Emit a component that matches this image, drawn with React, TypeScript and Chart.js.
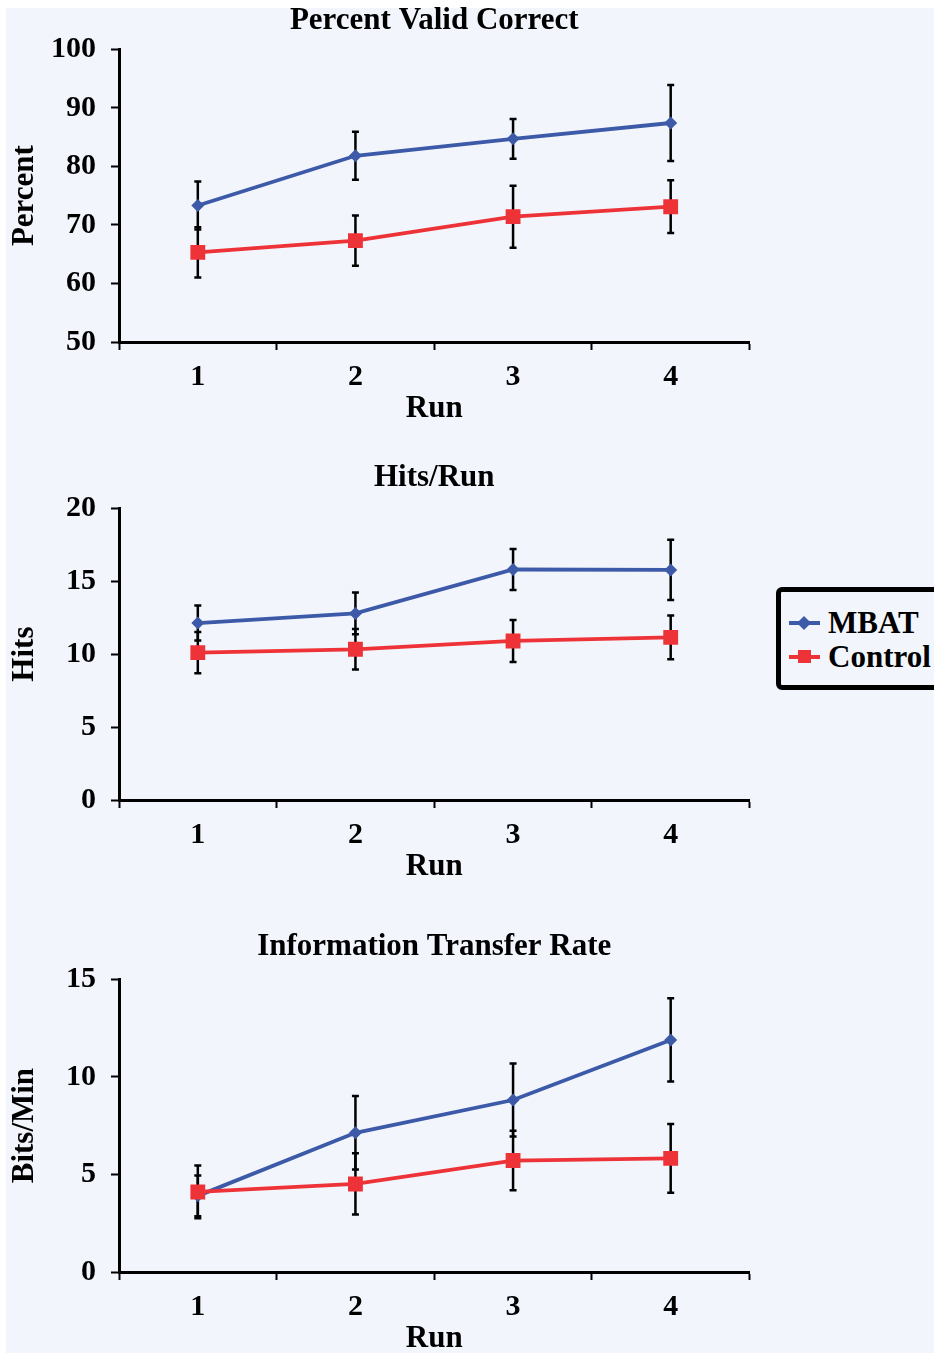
import React, { useEffect, useRef } from 'react';
import { Chart, registerables } from 'chart.js';
Chart.register(...registerables);

// ---- data ----
const runs = ['1', '2', '3', '4'];
const seriesNames = ['MBAT', 'Control'];

const pvcTitle = 'Percent Valid Correct';
const pvcYTitle = 'Percent';
const pvcRange = [50, 100, 10];
const pvcMbat = [73.3, 81.8, 84.7, 87.4];
const pvcMbatSd = [4.1, 4.1, 3.4, 6.5];
const pvcControl = [65.3, 67.3, 71.4, 73.1];
const pvcControlSd = [4.3, 4.3, 5.3, 4.5];

const hitsTitle = 'Hits/Run';
const hitsYTitle = 'Hits';
const hitsRange = [0, 20, 5];
const hitsMbat = [12.13, 12.79, 15.8, 15.77];
const hitsMbatSd = [1.2, 1.43, 1.4, 2.07];
const hitsControl = [10.1, 10.33, 10.9, 11.15];
const hitsControlSd = [1.41, 1.39, 1.44, 1.5];

const itrTitle = 'Information Transfer Rate';
const itrYTitle = 'Bits/Min';
const itrRange = [0, 15, 5];
const itrMbat = [3.9, 7.13, 8.81, 11.89];
const itrMbatSd = [1.05, 1.88, 1.87, 2.13];
const itrControl = [4.1, 4.51, 5.71, 5.82];
const itrControlSd = [1.35, 1.57, 1.52, 1.76];

const xTitle = 'Run';

// ---- style ----
const BLUE = '#3d5aa8';
const RED = '#ee3338';
const BG = '#f2f6fc';
const FONT_FAMILY = '"Liberation Serif", "Times New Roman", serif';
const font = { family: FONT_FAMILY, size: 30, weight: 'bold' as const, lineHeight: 1.2 };
const bigFont = { family: FONT_FAMILY, size: 31, weight: 'bold' as const, lineHeight: 1.2 };

const errorBarPlugin = {
  id: 'errorBars',
  beforeDatasetsDraw(chart: any) {
    const { ctx } = chart;
    const yScale = chart.scales.y;
    chart.data.datasets.forEach((ds: any, i: number) => {
      const err = ds.errors;
      if (!err) return;
      const meta = chart.getDatasetMeta(i);
      ctx.save();
      ctx.strokeStyle = '#000';
      ctx.lineWidth = 2.5;
      meta.data.forEach((pt: any, j: number) => {
        const v = ds.data[j];
        const e = err[j];
        const top = yScale.getPixelForValue(v + e);
        const bot = yScale.getPixelForValue(v - e);
        ctx.beginPath();
        ctx.moveTo(pt.x, top);
        ctx.lineTo(pt.x, bot);
        ctx.moveTo(pt.x - 3.5, top);
        ctx.lineTo(pt.x + 3.5, top);
        ctx.moveTo(pt.x - 3.5, bot);
        ctx.lineTo(pt.x + 3.5, bot);
        ctx.stroke();
      });
      ctx.restore();
    });
  },
};

type PanelProps = {
  title: string;
  yTitle: string;
  range: number[];
  mbat: number[];
  mbatSd: number[];
  control: number[];
  controlSd: number[];
  top: number;
  height: number;
  titlePad: { top: number; bottom: number };
};

const CANVAS_W = 760;

function Panel(p: PanelProps) {
  const ref = useRef<HTMLCanvasElement>(null);
  useEffect(() => {
    if (!ref.current) return;
    const chart = new Chart(ref.current, {
      type: 'line',
      data: {
        labels: runs,
        datasets: [
          {
            label: seriesNames[1],
            data: p.control,
            errors: p.controlSd,
            borderColor: RED,
            backgroundColor: RED,
            borderWidth: 3.8,
            pointStyle: 'rect',
            pointRadius: 10.5,
            pointBorderWidth: 0,
            tension: 0,
            order: 0,
          } as any,
          {
            label: seriesNames[0],
            data: p.mbat,
            errors: p.mbatSd,
            borderColor: BLUE,
            backgroundColor: BLUE,
            borderWidth: 3.8,
            pointStyle: 'rectRot',
            pointRadius: 6.5,
            pointBorderWidth: 0,
            tension: 0,
            order: 1,
          } as any,
        ],
      },
      options: {
        animation: false,
        responsive: false,
        devicePixelRatio: 1,
        layout: { padding: { left: 6, right: 5, top: 0, bottom: 0 } },
        plugins: {
          legend: { display: false },
          tooltip: { enabled: false },
          title: {
            display: true,
            text: p.title,
            color: '#000',
            font: bigFont,
            fullSize: false,
            padding: p.titlePad,
          },
        },
        scales: {
          x: {
            offset: true,
            grid: {
              offset: true,
              drawOnChartArea: false,
              drawTicks: true,
              tickLength: 8,
              tickWidth: 2,
              tickColor: '#000',
            },
            border: { display: true, color: '#000', width: 3 },
            ticks: { color: '#000', font, padding: 9 },
            title: { display: true, text: xTitle, color: '#000', font: bigFont, padding: { top: 0, bottom: 12 } },
            afterFit: (s: any) => {
              s.height = 98;
            },
          },
          y: {
            min: p.range[0],
            max: p.range[1],
            ticks: { stepSize: p.range[2], color: '#000', font, padding: 15 },
            grid: {
              drawOnChartArea: false,
              drawTicks: true,
              tickLength: 8,
              tickWidth: 2,
              tickColor: '#000',
            },
            border: { display: true, color: '#000', width: 3 },
            title: { display: true, text: p.yTitle, color: '#000', font: bigFont, padding: { top: 0, bottom: 0 } },
            afterFit: (s: any) => {
              s.width = 113;
            },
          },
        },
      } as any,
      plugins: [errorBarPlugin],
    });
    return () => chart.destroy();
  }, []);
  return (
    <canvas
      ref={ref}
      width={CANVAS_W}
      height={p.height}
      style={{ position: 'absolute', left: 0, top: p.top, width: CANVAS_W, height: p.height }}
    />
  );
}

function Legend() {
  const item = (color: string, name: string, y: number, diamond: boolean) => (
    <div style={{ position: 'absolute', left: 8, top: y, height: 34, width: 200 }}>
      <div style={{ position: 'absolute', left: 0, top: 15, width: 31, height: 4, background: color }} />
      {diamond ? (
        <div
          style={{
            position: 'absolute',
            left: 10,
            top: 12,
            width: 10,
            height: 10,
            background: color,
            transform: 'rotate(45deg)',
          }}
        />
      ) : (
        <div style={{ position: 'absolute', left: 9, top: 10, width: 13, height: 13, background: color }} />
      )}
      <span
        style={{
          position: 'absolute',
          left: 39,
          top: 0,
          font: `bold 31px ${FONT_FAMILY}`,
          lineHeight: '34px',
          color: '#000',
          whiteSpace: 'nowrap',
        }}
      >
        {name}
      </span>
    </div>
  );
  return (
    <div
      style={{
        position: 'absolute',
        left: 776,
        top: 587,
        width: 180,
        height: 93,
        border: '5px solid #000',
        borderRadius: 6,
        background: BG,
      }}
    >
      {item(BLUE, seriesNames[0], 14, true)}
      {item(RED, seriesNames[1], 48, false)}
    </div>
  );
}

export default function App() {
  return (
    <div style={{ position: 'absolute', left: 0, top: 0, width: 934, height: 1355, overflow: 'hidden', background: '#fff' }}>
      <div style={{ position: 'absolute', left: 6, top: 8, width: 928, height: 1345, background: BG }} />
      <Panel
        title={pvcTitle}
        yTitle={pvcYTitle}
        range={pvcRange}
        mbat={pvcMbat}
        mbatSd={pvcMbatSd}
        control={pvcControl}
        controlSd={pvcControlSd}
        top={0}
        height={440}
        titlePad={{ top: 2, bottom: 10 }}
      />
      <Panel
        title={hitsTitle}
        yTitle={hitsYTitle}
        range={hitsRange}
        mbat={hitsMbat}
        mbatSd={hitsMbatSd}
        control={hitsControl}
        controlSd={hitsControlSd}
        top={451}
        height={447}
        titlePad={{ top: 8, bottom: 12 }}
      />
      <Panel
        title={itrTitle}
        yTitle={itrYTitle}
        range={itrRange}
        mbat={itrMbat}
        mbatSd={itrMbatSd}
        control={itrControl}
        controlSd={itrControlSd}
        top={922}
        height={448}
        titlePad={{ top: 6, bottom: 14 }}
      />
      <Legend />
    </div>
  );
}
